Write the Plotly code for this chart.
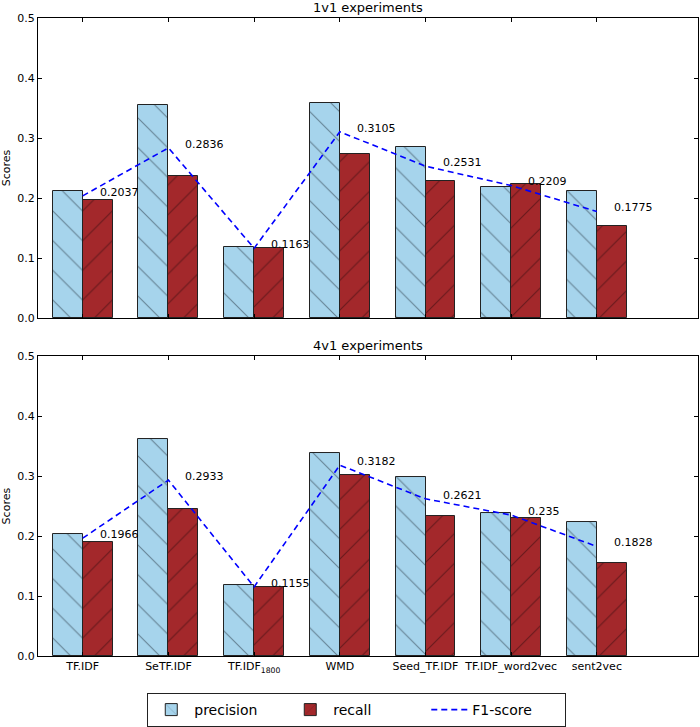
import plotly.graph_objects as go
from plotly.subplots import make_subplots

categories = ["TF.IDF", "SeTF.IDF", "TF.IDF<sub>1800</sub>", "WMD", "Seed_TF.IDF", "TF.IDF_word2vec", "sent2vec"]
prec_1v1 = [0.211, 0.355, 0.118, 0.358, 0.285, 0.219, 0.211]
rec_1v1 = [0.197, 0.236, 0.117, 0.274, 0.228, 0.223, 0.154]
f1_1v1 = [0.2037, 0.2836, 0.1163, 0.3105, 0.2531, 0.2209, 0.1775]
prec_4v1 = [0.203, 0.362, 0.118, 0.338, 0.298, 0.239, 0.223]
rec_4v1 = [0.191, 0.246, 0.115, 0.301, 0.234, 0.231, 0.155]
f1_4v1 = [0.1966, 0.2933, 0.1155, 0.3182, 0.2621, 0.235, 0.1828]
titles = ["1v1 experiments", "4v1 experiments"]
yticks = [0.0, 0.1, 0.2, 0.3, 0.4, 0.5]

W = 0.35
PREC_C = "#a6d4ec"
REC_C = "#a3282b"
FONT = "DejaVu Sans"

fig = make_subplots(rows=2, cols=1)
idx = list(range(len(categories)))

for r, (p, rc, f) in enumerate([(prec_1v1, rec_1v1, f1_1v1), (prec_4v1, rec_4v1, f1_4v1)], start=1):
    show = r == 1
    fig.add_trace(go.Bar(x=[i - W / 2 for i in idx], y=p, width=W, name="precision",
                         marker=dict(color=PREC_C, line=dict(color="#222", width=1),
                                     pattern=dict(shape="\\", fgcolor="#1e2c36", size=21, solidity=0.05)),
                         showlegend=show, legendgroup="p"), row=r, col=1)
    fig.add_trace(go.Bar(x=[i + W / 2 for i in idx], y=rc, width=W, name="recall",
                         marker=dict(color=REC_C, line=dict(color="#222", width=1),
                                     pattern=dict(shape="/", fgcolor="#2a0a0b", size=21, solidity=0.05)),
                         showlegend=show, legendgroup="r"), row=r, col=1)
    fig.add_trace(go.Scatter(x=idx, y=f, mode="lines", name="F1-score",
                             line=dict(color="#0000ff", width=1.6, dash="6px,4px"),
                             showlegend=show, legendgroup="f"), row=r, col=1)
    for i, v in zip(idx, f):
        fig.add_annotation(x=i + W / 2, y=v + 0.006, text=str(v), showarrow=False,
                           xanchor="left", yanchor="middle", font=dict(size=11, color="black", family=FONT),
                           row=r, col=1)

axis_common = dict(showline=True, linecolor="black", linewidth=1, mirror="allticks",
                   ticks="inside", ticklen=4, tickcolor="black", showgrid=False, zeroline=False,
                   automargin=False)
for r in (1, 2):
    fig.update_xaxes(range=[-0.522, 7.18], tickvals=idx, ticktext=categories,
                     showticklabels=(r == 2), tickfont=dict(size=11, family=FONT, color="black"),
                     row=r, col=1, **axis_common)
    fig.update_yaxes(range=[0, 0.5], tickvals=yticks, tickformat=".1f",
                     tickfont=dict(size=11, family=FONT, color="black"),
                     title=dict(text="Scores", font=dict(size=11, family=FONT, color="black"), standoff=6),
                     row=r, col=1, **axis_common)

# pixel layout: paper spans y 18..727 (709 px)
dom_top = [0.5755, 1.0]
dom_bot = [0.0973, 0.5219]
fig.update_layout(yaxis=dict(domain=dom_top), yaxis2=dict(domain=dom_bot))

for t, d in zip(titles, [dom_top, dom_bot]):
    fig.add_annotation(x=0.5, y=d[1], xref="paper", yref="paper", text=t, showarrow=False,
                       xanchor="center", yanchor="bottom", yshift=1,
                       font=dict(size=13, family=FONT, color="black"))

fig.update_layout(
    width=700, height=727,
    margin=dict(l=38, r=2, t=18, b=0),
    plot_bgcolor="white", paper_bgcolor="white",
    barmode="overlay", bargap=0,
    font=dict(family=FONT, color="black"),
    legend=dict(orientation="h", x=0.483, xanchor="center", y=0.0451, yanchor="top",
                font=dict(size=14, family=FONT), bordercolor="#222", borderwidth=1,
                entrywidth=88, itemwidth=36, traceorder="normal", tracegroupgap=0),
)
fig.write_html("out.html", config={"displayModeBar": False},
               post_script="document.body.style.margin='0';")
